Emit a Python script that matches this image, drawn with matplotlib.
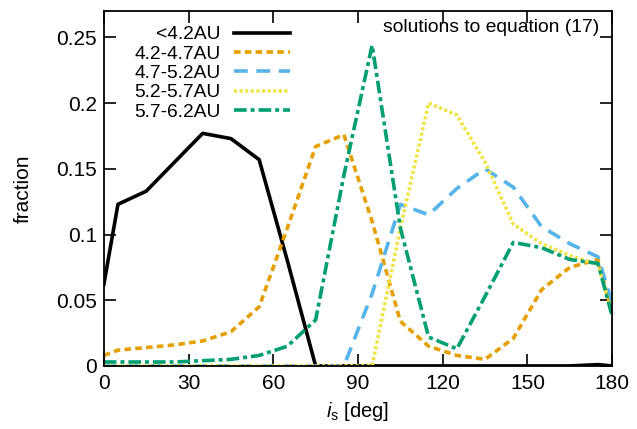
import matplotlib
matplotlib.use("Agg")
import matplotlib.pyplot as plt

plt.rcParams['font.family'] = ['Liberation Sans', 'DejaVu Sans']
plt.rcParams['mathtext.fontset'] = 'custom'
plt.rcParams['mathtext.rm'] = 'Liberation Sans'
plt.rcParams['mathtext.it'] = 'Liberation Sans:italic'

# inclinacion (centros de los bins)
inc = [0, 5, 15, 25, 35, 45, 55, 65, 75, 85, 95, 105, 115, 125, 135, 145, 155, 165, 175, 180]

lt42 = [0.062, 0.123, 0.133, 0.155, 0.177, 0.173, 0.157, 0.080, 0.0, 0.0,
        0.0, 0.0, 0.0, 0.0, 0.0, 0.0, 0.0, 0.0, 0.001, 0.0]
r42_47 = [0.008, 0.012, 0.014, 0.016, 0.019, 0.026, 0.045, 0.105, 0.167, 0.176,
          0.110, 0.034, 0.015, 0.008, 0.005, 0.021, 0.058, 0.075, 0.081, 0.040]
r47_52 = [0.0, 0.0, 0.0, 0.0, 0.0, 0.0, 0.0, 0.0, 0.0, 0.0,
          0.055, 0.123, 0.115, 0.135, 0.150, 0.136, 0.106, 0.093, 0.083, 0.048]
r52_57 = [0.0, 0.0, 0.0, 0.0, 0.0, 0.0, 0.0, 0.0, 0.0, 0.0,
          0.0, 0.105, 0.200, 0.191, 0.155, 0.108, 0.093, 0.084, 0.077, 0.040]
r57_62 = [0.003, 0.003, 0.003, 0.003, 0.004, 0.005, 0.008, 0.015, 0.035, 0.145,
          0.244, 0.105, 0.022, 0.013, 0.053, 0.094, 0.090, 0.081, 0.078, 0.038]

labels = ["<4.2AU", "4.2-4.7AU", "4.7-5.2AU", "5.2-5.7AU", "5.7-6.2AU"]
series = [lt42, r42_47, r47_52, r52_57, r57_62]
colores = ["black", "#E69F00", "#56B4E9", "#F0E442", "#009E73"]
estilos = [None, (1.8, 1.2), (3.8, 2.4), (0.85, 0.7), (3.5, 1.1, 1.1, 1.1)]

fig = plt.figure(figsize=(6.37, 4.29), dpi=100)
ax = fig.add_axes([0.163, 0.147, 0.798, 0.827])

for y, lab, c, d in zip(series, labels, colores, estilos):
    line, = ax.plot(inc, y, color=c, lw=2.6, label=lab)
    if d is not None:
        line.set_dashes(d)

ax.set_xlim(0, 180)
ax.set_ylim(0, 0.27)
ax.set_xticks([0, 30, 60, 90, 120, 150, 180])
ax.set_yticks([0, 0.05, 0.1, 0.15, 0.2, 0.25])
ax.set_yticklabels(["0", "0.05", "0.1", "0.15", "0.2", "0.25"])
ax.tick_params(direction='in', length=8.5, width=1.2, top=True, right=True,
               labelsize=15, pad=6)
ax.tick_params(axis='y', pad=5)
for s in ax.spines.values():
    s.set_linewidth(1.3)

ax.set_xlabel(r"$i_{\rm s}$ [deg]", fontsize=14.5, labelpad=5)
ax.set_ylabel("fraction", fontsize=15, labelpad=17)

leg = ax.legend(loc='upper left', bbox_to_anchor=(0.022, 1.012), frameon=False,
                markerfirst=False, fontsize=13.8, handlelength=2.9,
                handletextpad=0.7, labelspacing=0.1, borderaxespad=0.6)

ax.text(0.975, 0.955, "solutions to equation (17)", transform=ax.transAxes,
        ha='right', va='center', fontsize=13.9)

fig.savefig("out.png", dpi=100)
